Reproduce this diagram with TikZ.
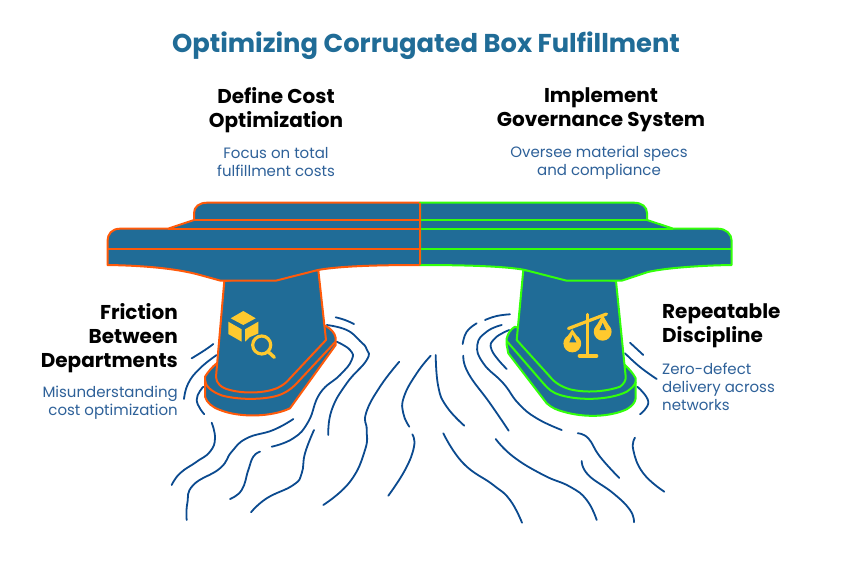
\documentclass[tikz,border=0pt]{standalone}
\usepackage{fontspec}
\setmainfont{Poppins}
\definecolor{deck}{HTML}{206C97}
\definecolor{orng}{HTML}{FF5A0A}
\definecolor{grn}{HTML}{33FF0A}
\definecolor{wv}{HTML}{0B4A8F}
\definecolor{ylw}{HTML}{FFC92E}
\definecolor{desc}{HTML}{2E6199}
\tikzset{
  wave/.style={draw=wv,line width=1.8pt,line cap=round,line join=round},
  orngpart/.style={fill=deck,draw=orng,line width=2pt,line join=round},
  grnpart/.style={fill=deck,draw=grn,line width=2pt,line join=round},
  titletext/.style={inner sep=0pt,text=deck,font=\fontsize{25.8}{30}\selectfont\bfseries},
  headtext/.style={inner sep=0pt,text=black,font=\fontsize{20}{24}\selectfont\bfseries},
  desctext/.style={inner sep=0pt,text=desc,font=\fontsize{15}{18}\selectfont},
  ic/.style={fill=ylw,draw=none},
  icl/.style={draw=ylw,line cap=round,line join=round}
}
\newcommand{\wavecurve}[1]{\draw[wave] plot[smooth,tension=0.8] coordinates {#1};}
\begin{document}
\begin{tikzpicture}[x=1pt,y=-1pt]
\useasboundingbox (0,0) rectangle (852,570);
\fill[white] (0,0) rectangle (852,570);
% waves
\wavecurve{(171.7,485)(180,473.3)(196.7,461.7)(210,451.7)(215,438.3)(211.7,422.7)}
\wavecurve{(186.7,520)(187.3,503.3)(193.3,485)(220,468.3)(231.7,451.7)(246.7,438.3)(273.3,430)(293.3,419)}
\wavecurve{(230,499)(241.7,490)(248.3,470)(253.3,456.7)(260,451.7)}
\wavecurve{(251,512.3)(266.7,498.3)(293.3,485)(301.7,473.3)(305,453.3)(314,430)}
\wavecurve{(271.7,446.7)(293.3,438.3)(308.3,421.7)(320,393.3)(340,375)(351.7,360)(350,350)(336.7,341.7)}
\wavecurve{(328.3,435)(331.7,410)(346.7,383.3)(366.7,360)(366.7,349.3)(360,341)(346.7,330)(326.7,325)}
\wavecurve{(335.7,317.3)(345,320)(354,324)}
\wavecurve{(191.7,358.3)(205,350)(213.3,344)}
\wavecurve{(184,399)(188.3,383.3)(200,368.3)(216.7,355)}
\wavecurve{(204.3,414.3)(196.7,400)(203.3,386.7)}
\wavecurve{(323.3,505)(350,481.7)(365,450)(366.7,430)(366,413.3)(380,386.7)(399.3,361.7)}
\wavecurve{(388.3,495.7)(405,470)(414,446.7)(412.3,434.3)}
\wavecurve{(430.7,355.7)(416.7,373.3)(404,396.7)(403.3,413.3)(409.3,426.7)}
\wavecurve{(435.7,355)(438.3,386.7)(446.7,406.7)(464.3,425.7)}
\wavecurve{(463.3,355.7)(468.3,373.3)(490,403.3)(508.7,430.7)}
\wavecurve{(501.7,325)(486.7,331.7)(477.3,345)(483.3,363.3)(503.3,383.3)(518.3,403.3)(536.7,418.3)(561.7,430)}
\wavecurve{(485,320)(496.7,316)(510,314.3)}
\wavecurve{(462.7,344)(466.7,331.7)(476.7,323.3)}
\wavecurve{(509.3,330)(495,338.3)(491.7,350)(506.7,369)}
\wavecurve{(630,342.7)(643.3,355)}
\wavecurve{(625,353.3)(640,367)(656.7,379)}
\wavecurve{(637.3,386.7)(648.3,401.7)(640,414.3)}
\wavecurve{(443.3,433.3)(463.3,463.3)(493.3,485)(510,500)(522,522.7)}
\wavecurve{(495.7,439)(513.3,456.7)(543.3,475)(570,486.7)(586.7,500)(596.7,520)}
\wavecurve{(577.7,433.3)(588.3,438.3)(600,456.7)(619.3,478)}
\wavecurve{(581.7,461)(588.3,475)(613.3,493.3)(630,510)(634,522.3)}
\wavecurve{(635,437.7)(633.3,450)(643.3,473.3)(664.3,491.7)}
% left pier bases
\path[orngpart] (205,376.7) -- (205,396.7) .. controls (207,403) and (212,407) .. (220,410)
  .. controls (240,418) and (272,417) .. (290,408.3) -- (335.7,345) -- (335.7,338)
  .. controls (335,333) and (331,329) .. (326,326) -- (216.7,363.3) .. controls (212,367) and (208,372) .. (205,376.7) -- cycle;
\path[orngpart,fill=none] (205,380) .. controls (205,386) and (212,392) .. (222,395.5)
  .. controls (240,400.5) and (270,400) .. (283,393.5) .. controls (290,390) and (293,387) .. (296.7,383.3) -- (335.7,341.5);
% left pier
\path[orngpart] (224.3,281) -- (216,376.7) .. controls (216,383) and (221,388) .. (230,390)
  .. controls (245,394) and (265,393) .. (276.7,388.3) .. controls (283,385.5) and (287,382) .. (290,378.3)
  -- (326,340) -- (318.3,270) -- cycle;
% right pier bases
\path[grnpart] (506.7,338.3) -- (506.7,345) -- (508.3,353.3) -- (546.7,403.3) .. controls (552,408) and (557,410) .. (563.3,411.7)
  .. controls (585,418) and (610,417) .. (626.7,409.3) .. controls (632,406) and (635,403) .. (635.7,398.3)
  -- (635.7,378.3) .. controls (633,373) and (629,369) .. (625,365) -- (515,326.7) .. controls (511,329) and (508,333) .. (506.7,338.3) -- cycle;
\path[grnpart,fill=none] (506.7,341) -- (543.3,383.3) .. controls (548,389) and (553,393) .. (560,395)
  .. controls (580,401) and (610,400) .. (626.7,391.7) .. controls (632,388) and (635,385) .. (635.7,381.7);
% right pier
\path[grnpart] (523.3,270) -- (516.7,340) -- (550,376.7) .. controls (555,383) and (562,387) .. (570,389.3)
  .. controls (585,393) and (605,392) .. (620,386.7) .. controls (624,384) and (626,380) .. (625.7,376.7)
  -- (616,281) -- cycle;
% left deck
\path[orngpart] (420,202.7) -- (207,202.7) .. controls (199,202.7) and (194,207) .. (194,213) -- (194,220)
  -- (168,228.7) -- (120,228.7) .. controls (112,228.7) and (107.5,234) .. (107.5,241)
  -- (107.5,265) .. controls (140,265.5) and (175,268) .. (200,275) -- (220.7,280.7) -- (275.7,280.7)
  -- (318,270) .. controls (340,266) and (380,265) .. (420,265) -- cycle;
\draw[orng,line width=2pt] (194,220) -- (420,220);
\draw[orng,line width=2pt] (168,228.7) -- (420,228.7);
\draw[orng,line width=2pt] (107.5,248.7) -- (420,248.7);
% right deck
\path[grnpart] (420,202.7) -- (634,202.7) .. controls (642,202.7) and (647,207) .. (647,213) -- (647,220)
  -- (673.3,228.7) -- (718,228.7) .. controls (726,228.7) and (731.7,234) .. (731.7,241)
  -- (731.7,265) .. controls (700,265.5) and (665,268) .. (648,272) -- (621.7,280.7) -- (566.7,280.7)
  -- (525,270) .. controls (505,266) and (460,265) .. (420,265) -- cycle;
\draw[grn,line width=2pt] (420,220) -- (647,220);
\draw[grn,line width=2pt] (420,228.7) -- (673.3,228.7);
\draw[grn,line width=2pt] (420,248.7) -- (731.7,248.7);
\draw[orng,line width=2pt] (420,202.7) -- (420,265);
% box icon
\fill[ic] (243.3,311) -- (255.7,318.3) -- (243.3,325) -- (230.7,318.3) -- cycle;
\fill[ic] (228.3,321.7) -- (241.7,329.3) -- (241.7,341.7) -- (228.3,334) -- cycle;
\fill[ic] (245,329.3) -- (258.3,321.7) -- (258.3,333.5) -- (250,337) -- (245,341.7) -- cycle;
\draw[icl,line width=3.2pt] (261.7,345) circle (9pt);
\draw[icl,line width=3.4pt] (268.5,352) -- (274.3,357.3);
% scales icon
\draw[icl,line width=3.2pt] (568.5,328.5) -- (606.5,314);
\draw[icl,line width=3.2pt] (587.7,314.5) -- (587.7,356);
\draw[icl,line width=3.6pt] (579.5,356) -- (596.5,356);
\fill[ic] (572.3,343.5) circle (8.9pt);
\fill[ic] (572.3,329.3) -- (563.6,342) -- (581,342) -- cycle;
\fill[deck] (572.7,335) -- (569.3,342.3) -- (576.3,342.3) -- cycle;
\fill[ic] (602.7,331.8) circle (8.9pt);
\fill[ic] (602.7,315) -- (593.9,330) -- (611.5,330) -- cycle;
\fill[deck] (602.7,323) -- (599.5,330) -- (606,330) -- cycle;
% text
\node[titletext] (title) at (426,46) {Optimizing Corrugated Box Fulfillment};
\node[headtext,align=center] (h1) at (276,110) {Define Cost\\Optimization};
\node[headtext,align=center] (h2) at (601,110) {Implement\\Governance System};
\node[desctext,align=center] (d1) at (276,162.5) {Focus on total\\fulfillment costs};
\node[desctext,align=center] (d2) at (599,162.5) {Oversee material specs\\and compliance};
\node[headtext,align=right,anchor=east] (h3) at (178,338) {Friction\\Between\\Departments};
\node[desctext,align=right,anchor=east] (d3) at (178,403) {Misunderstanding\\cost optimization};
\node[headtext,align=left,anchor=west] (h4) at (662,326) {Repeatable\\Discipline};
\node[desctext,align=left,anchor=west] (d4) at (662,387) {Zero-defect\\delivery across\\networks};
\end{tikzpicture}
\end{document}
